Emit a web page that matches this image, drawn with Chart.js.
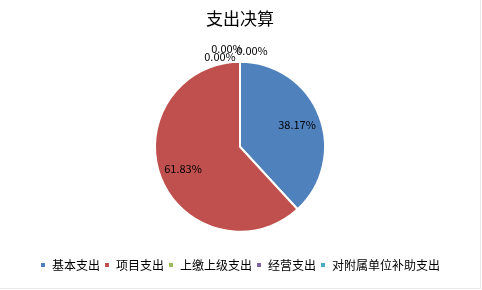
<!DOCTYPE html>
<html>
<head>
<meta charset="utf-8">
<script src="https://cdn.jsdelivr.net/npm/chart.js@4/dist/chart.umd.min.js"></script>
<style>
  html, body { margin: 0; padding: 0; background: #fff; }
  #wrap { width: 480px; height: 288px; border-right: 1px solid #e8e8e8; border-bottom: 1px solid #e8e8e8; }
</style>
</head>
<body>
<div id="wrap"><canvas id="pieChart" width="480" height="288"></canvas></div>
<script>
// Expenditure breakdown
const categories = ['基本支出', '项目支出', '上缴上级支出', '经营支出', '对附属单位补助支出'];
const shares = [38.17, 61.83, 0, 0, 0];
const colors = ['#4f81bd', '#c0504d', '#9bbb59', '#8064a2', '#4bacc6'];

const FONT = '"Noto Sans CJK SC", "Noto Sans", sans-serif';

// draws the percentage labels on the slices
const sliceLabels = {
    id: 'sliceLabels',
    afterDatasetsDraw(chart) {
        const ctx = chart.ctx;
        const arcs = chart.getDatasetMeta(0).data;
        ctx.save();
        ctx.font = '11px ' + FONT;
        ctx.fillStyle = '#000';
        ctx.textAlign = 'center';
        ctx.textBaseline = 'middle';
        let zeroIdx = 0;
        const zeroShift = [[-20, 3], [-13, -5], [12, -3]];
        arcs.forEach((arc, i) => {
            const p = arc.getProps(['x', 'y', 'startAngle', 'endAngle', 'outerRadius']);
            const mid = (p.startAngle + p.endAngle) / 2;
            const text = shares[i].toFixed(2) + '%';
            if (shares[i] > 0) {
                const r = p.outerRadius * 0.72;
                ctx.fillText(text, p.x + Math.cos(mid) * r, p.y + Math.sin(mid) * r);
            } else {
                const r = p.outerRadius + 8;
                const s = zeroShift[zeroIdx++] || [0, 0];
                ctx.fillText(text, p.x + Math.cos(mid) * r + s[0], p.y + Math.sin(mid) * r + s[1]);
            }
        });
        ctx.restore();
    }
};

new Chart(document.getElementById('pieChart').getContext('2d'), {
    type: 'pie',
    data: {
        labels: categories,
        datasets: [{
            data: shares,
            backgroundColor: colors,
            borderColor: '#fff',
            borderWidth: 2,
            radius: 85
        }]
    },
    options: {
        responsive: false,
        animation: false,
        layout: { padding: { top: 0, bottom: 7 } },
        plugins: {
            title: {
                display: true,
                text: '支出决算',
                color: '#000',
                font: { family: FONT, size: 17, weight: 'normal' },
                padding: { top: 8, bottom: 10 }
            },
            legend: {
                position: 'bottom',
                labels: {
                    color: '#000',
                    boxWidth: 6,
                    boxHeight: 6,
                    padding: 4,
                    font: { family: FONT, size: 12 }
                }
            },
            tooltip: { enabled: false }
        }
    },
    plugins: [sliceLabels]
});
</script>
</body>
</html>
